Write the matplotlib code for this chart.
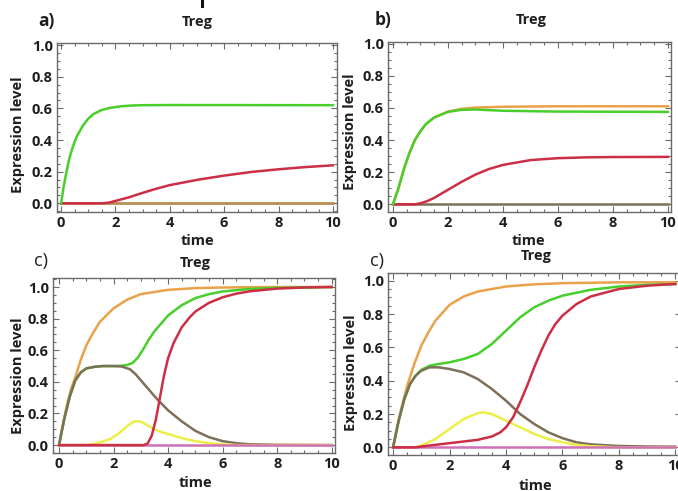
import matplotlib
matplotlib.use("Agg")
import matplotlib.pyplot as plt
from matplotlib.ticker import MultipleLocator
from matplotlib.lines import Line2D

W, H = 678, 491

# ---------------- panel a ----------------
a_green_t = [0, 0.1, 0.2, 0.3, 0.4, 0.5, 0.6, 0.8, 1.0, 1.2, 1.5, 1.8, 2.2, 2.6, 3.0, 4.0, 10.0]
a_green_y = [0, 0.11, 0.20, 0.28, 0.34, 0.39, 0.43, 0.49, 0.535, 0.565, 0.59, 0.603, 0.613, 0.618, 0.62, 0.621, 0.62]
a_red_t = [0, 1.5, 1.75, 2.0, 2.5, 3.0, 3.5, 4.0, 5.0, 6.0, 7.0, 8.0, 9.0, 10.0]
a_red_y = [0, 0, 0.004, 0.015, 0.038, 0.066, 0.092, 0.115, 0.148, 0.175, 0.198, 0.215, 0.229, 0.24]
a_flat_t = [0, 10]
a_flat_y = [0, 0]

# ---------------- panel b ----------------
b_orange_t = [0, 0.2, 0.4, 0.6, 0.8, 1.0, 1.2, 1.5, 2.0, 2.5, 3.0, 4.0, 6.0, 10.0]
b_orange_y = [0, 0.10, 0.22, 0.32, 0.40, 0.455, 0.50, 0.54, 0.577, 0.594, 0.602, 0.607, 0.61, 0.61]
b_green_t = [0, 0.2, 0.4, 0.6, 0.8, 1.0, 1.2, 1.5, 2.0, 2.5, 3.0, 3.5, 4.0, 6.0, 10.0]
b_green_y = [0, 0.10, 0.22, 0.32, 0.40, 0.455, 0.50, 0.54, 0.575, 0.588, 0.59, 0.586, 0.582, 0.577, 0.575]
b_red_t = [0, 0.8, 1.0, 1.25, 1.5, 2.0, 2.5, 3.0, 3.5, 4.0, 5.0, 6.0, 7.0, 8.0, 10.0]
b_red_y = [0, 0, 0.006, 0.02, 0.04, 0.09, 0.14, 0.185, 0.22, 0.245, 0.275, 0.287, 0.292, 0.294, 0.295]
b_flat_t = [0, 10]
b_flat_y = [0, 0]

# ---------------- panel c ----------------
c_orange_t = [0, 0.15, 0.3, 0.45, 0.6, 0.8, 1.0, 1.25, 1.5, 2.0, 2.5, 3.0, 4.0, 5.0, 6.0, 8.0, 10.0]
c_orange_y = [0, 0.14, 0.26, 0.36, 0.43, 0.54, 0.63, 0.71, 0.78, 0.865, 0.92, 0.955, 0.982, 0.993, 0.997, 1.0, 1.0]
c_brown_t = [0, 0.2, 0.4, 0.6, 0.8, 1.0, 1.3, 1.6, 2.0, 2.3, 2.6, 2.8, 3.0, 3.3, 3.6, 4.0, 4.5, 5.0, 5.5, 6.0, 6.5, 7.0, 8.0, 10.0]
c_brown_y = [0, 0.17, 0.31, 0.41, 0.46, 0.485, 0.495, 0.5, 0.5, 0.497, 0.48, 0.45, 0.41, 0.35, 0.29, 0.22, 0.15, 0.09, 0.05, 0.025, 0.012, 0.005, 0.002, 0]
c_green_t = [0, 0.2, 0.4, 0.6, 0.8, 1.0, 1.3, 1.6, 2.0, 2.3, 2.5, 2.7, 2.9, 3.1, 3.3, 3.5, 3.75, 4.0, 4.5, 5.0, 5.5, 6.0, 7.0, 8.0, 10.0]
c_green_y = [0, 0.17, 0.31, 0.41, 0.46, 0.485, 0.495, 0.5, 0.5, 0.502, 0.507, 0.52, 0.555, 0.61, 0.67, 0.72, 0.77, 0.82, 0.885, 0.93, 0.955, 0.972, 0.988, 0.995, 1.0]
c_yellow_t = [0, 1.0, 1.3, 1.6, 1.9, 2.2, 2.5, 2.7, 2.85, 3.0, 3.2, 3.5, 3.8, 4.2, 4.6, 5.0, 5.5, 6.0, 6.5, 10.0]
c_yellow_y = [0, 0, 0.008, 0.022, 0.04, 0.075, 0.12, 0.145, 0.152, 0.148, 0.13, 0.10, 0.08, 0.06, 0.04, 0.025, 0.012, 0.005, 0, 0]
c_red_t = [0, 3.1, 3.25, 3.4, 3.55, 3.7, 3.85, 4.0, 4.2, 4.5, 4.8, 5.0, 5.5, 6.0, 6.5, 7.0, 8.0, 9.0, 10.0]
c_red_y = [0, 0, 0.01, 0.06, 0.16, 0.30, 0.44, 0.55, 0.645, 0.745, 0.81, 0.845, 0.90, 0.935, 0.958, 0.973, 0.99, 0.997, 1.0]
c_magenta_t = [0, 10]
c_magenta_y = [0, 0]

# ---------------- panel d ----------------
d_orange_t = [0, 0.15, 0.3, 0.5, 0.75, 1.0, 1.25, 1.5, 2.0, 2.5, 3.0, 4.0, 5.0, 6.0, 8.0, 10.0]
d_orange_y = [0, 0.13, 0.24, 0.37, 0.50, 0.61, 0.69, 0.76, 0.855, 0.905, 0.935, 0.965, 0.978, 0.985, 0.99, 0.99]
d_brown_t = [0, 0.2, 0.4, 0.6, 0.8, 1.0, 1.3, 1.6, 2.0, 2.5, 3.0, 3.5, 4.0, 4.5, 5.0, 5.5, 6.0, 6.5, 7.0, 8.0, 9.0, 10.0]
d_brown_y = [0, 0.16, 0.29, 0.38, 0.43, 0.46, 0.48, 0.48, 0.47, 0.45, 0.41, 0.35, 0.28, 0.20, 0.14, 0.09, 0.055, 0.03, 0.018, 0.008, 0.005, 0.004]
d_green_t = [0, 0.2, 0.4, 0.6, 0.8, 1.0, 1.3, 1.6, 2.0, 2.5, 3.0, 3.5, 4.0, 4.5, 5.0, 5.5, 6.0, 7.0, 8.0, 9.0, 10.0]
d_green_y = [0, 0.16, 0.29, 0.38, 0.43, 0.465, 0.49, 0.50, 0.51, 0.53, 0.56, 0.62, 0.70, 0.78, 0.84, 0.88, 0.91, 0.945, 0.965, 0.975, 0.98]
d_yellow_t = [0, 0.8, 1.0, 1.5, 2.0, 2.5, 3.0, 3.2, 3.5, 4.0, 4.5, 5.0, 5.5, 6.0, 6.5, 7.0, 8.0, 10.0]
d_yellow_y = [0, 0, 0.01, 0.05, 0.11, 0.17, 0.205, 0.21, 0.20, 0.16, 0.12, 0.08, 0.05, 0.03, 0.015, 0.007, 0, 0]
d_red_t = [0, 0.8, 1.0, 1.5, 2.0, 2.5, 3.0, 3.5, 3.8, 4.0, 4.25, 4.5, 4.75, 5.0, 5.25, 5.5, 5.75, 6.0, 6.5, 7.0, 8.0, 9.0, 10.0]
d_red_y = [0, 0, 0.005, 0.015, 0.025, 0.035, 0.045, 0.065, 0.09, 0.12, 0.18, 0.27, 0.37, 0.48, 0.58, 0.67, 0.74, 0.79, 0.86, 0.905, 0.95, 0.97, 0.98]
d_magenta_t = [0, 10]
d_magenta_y = [0.005, 0.005]

x_ticks = [0, 2, 4, 6, 8, 10]
y_ticks = [0.0, 0.2, 0.4, 0.6, 0.8, 1.0]

ORANGE = "#e9a249"
BROWN = "#7d7058"
GREEN = "#48cf2c"
YELLOW = "#eeee48"
RED = "#cc2f45"
MAGENTA = "#cf6fb8"
FRAME = "#6a6a6a"
TXT = "#1e1e1e"

plt.rcParams["font.family"] = ["Open Sans", "DejaVu Sans"]

fig = plt.figure(figsize=(W / 100, H / 100), dpi=100)
fig.patch.set_facecolor("white")


def px_axes(left, right, top, bottom):
    return fig.add_axes([left / W, 1 - bottom / H, (right - left) / W, (bottom - top) / H])


def style(ax, xlim, ylim):
    ax.set_xlim(*xlim)
    ax.set_ylim(*ylim)
    ax.set_xticks(x_ticks)
    ax.set_yticks(y_ticks)
    ax.set_xticklabels([str(v) for v in x_ticks])
    ax.set_yticklabels([f"{v:.1f}" for v in y_ticks])
    ax.xaxis.set_minor_locator(MultipleLocator(0.5))
    ax.yaxis.set_minor_locator(MultipleLocator(0.05))
    ax.tick_params(which="both", direction="in", top=True, right=True,
                   color=FRAME, width=0.8)
    ax.tick_params(which="major", length=4, labelsize=10.5, labelcolor=TXT)
    ax.tick_params(which="minor", length=2)
    ax.tick_params(axis="x", which="major", pad=3)
    ax.tick_params(axis="y", which="major", pad=3)
    for lbl in ax.get_xticklabels() + ax.get_yticklabels():
        lbl.set_fontweight("bold")
    for s in ax.spines.values():
        s.set_color(FRAME)
        s.set_linewidth(1.0)


LW = 1.8

def fig_text(x, y, s, size, weight="bold", rotation=0):
    fig.text(x / W, 1 - y / H, s, ha="center", va="center", fontsize=size,
             fontweight=weight, rotation=rotation, color=TXT)


# panel a
ax = px_axes(57, 337, 43, 212)
ax.plot(a_flat_t, a_flat_y, color=BROWN, lw=LW)
ax.plot(a_flat_t, a_flat_y, color=ORANGE, lw=LW, alpha=0.6)
ax.plot(a_red_t, a_red_y, color=RED, lw=LW)
ax.plot(a_green_t, a_green_y, color=GREEN, lw=LW)
style(ax, (-0.15, 10.15), (-0.055, 1.013))

# panel b
ax = px_axes(388, 671, 42, 212)
ax.plot(b_flat_t, b_flat_y, color=BROWN, lw=LW)
ax.plot(b_red_t, b_red_y, color=RED, lw=LW)
ax.plot(b_orange_t, b_orange_y, color=ORANGE, lw=LW)
ax.plot(b_green_t, b_green_y, color=GREEN, lw=LW)
style(ax, (-0.18, 10.11), (-0.048, 1.01))

# panel c
ax = px_axes(53, 335, 278, 453)
ax.plot(c_orange_t, c_orange_y, color=ORANGE, lw=LW)
ax.plot(c_green_t, c_green_y, color=GREEN, lw=LW)
ax.plot(c_brown_t, c_brown_y, color=BROWN, lw=LW)
ax.plot(c_yellow_t, c_yellow_y, color=YELLOW, lw=LW)
ax.plot(c_magenta_t, c_magenta_y, color=MAGENTA, lw=LW)
ax.plot(c_red_t, c_red_y, color=RED, lw=LW)
style(ax, (-0.22, 10.12), (-0.05, 1.057))

# panel d
ax = px_axes(388, 681, 273, 455)
ax.plot(d_orange_t, d_orange_y, color=ORANGE, lw=LW)
ax.plot(d_green_t, d_green_y, color=GREEN, lw=LW)
ax.plot(d_brown_t, d_brown_y, color=BROWN, lw=LW)
ax.plot(d_yellow_t, d_yellow_y, color=YELLOW, lw=LW)
ax.plot(d_magenta_t, d_magenta_y, color=MAGENTA, lw=LW)
ax.plot(d_red_t, d_red_y, color=RED, lw=LW)
style(ax, (-0.18, 10.2), (-0.046, 1.046))

# panel letters and titles
fig_text(46, 21, "a)", 12.5)
fig_text(197, 22, "Treg", 10.5)
fig_text(383, 20, "b)", 12.5)
fig_text(531, 20, "Treg", 10.5)
fig_text(41, 261, "c)", 13, weight="normal")
fig_text(195, 263, "Treg", 10.5)
fig_text(377, 261, "c)", 13, weight="normal")
fig_text(536, 256, "Treg", 10.5)

# axis labels
fig_text(197, 241, "time", 10.5)
fig_text(528, 241, "time", 10.5)
fig_text(195, 483, "time", 10.5)
fig_text(535, 486, "time", 10.5)
fig_text(18, 135, "Expression level", 10.5, rotation=90)
fig_text(350, 132, "Expression level", 10.5, rotation=90)
fig_text(18, 376, "Expression level", 10.5, rotation=90)
fig_text(351, 373, "Expression level", 10.5, rotation=90)

# short dark stroke along the top edge
fig.add_artist(Line2D([202 / W, 202 / W], [1.0, 1 - 6 / H], color="#111111", lw=2.2))

fig.savefig("out.png", dpi=100, facecolor="white")
